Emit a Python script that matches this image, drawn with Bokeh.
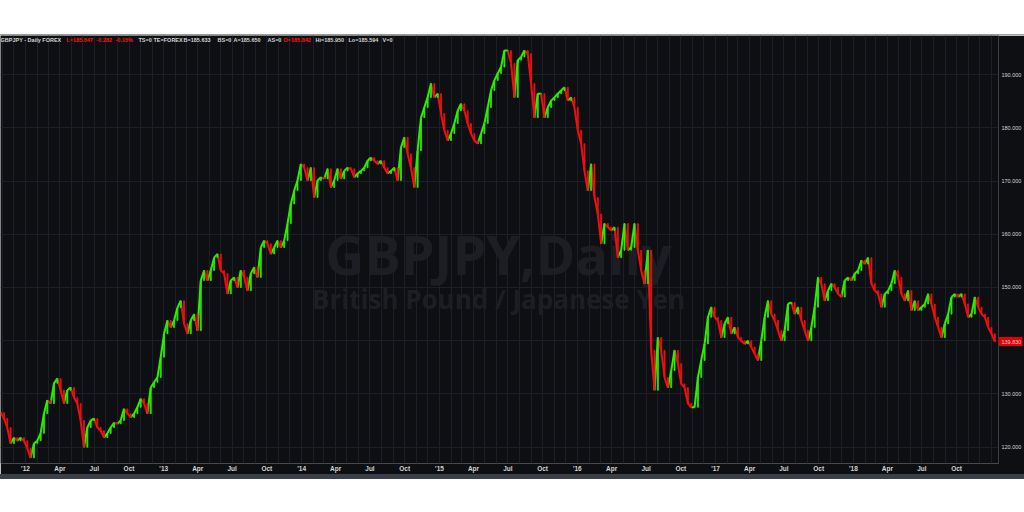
import pandas as pd
from bokeh.plotting import figure
from bokeh.models import (ColumnDataSource, FixedTicker, Range1d, Label,
                          LinearAxis, Div, Spacer)
from bokeh.layouts import column
from bokeh.embed import file_html
from bokeh.resources import INLINE

# ---------------- data ----------------
closes = [
    126.5, 125.4, 123.7, 120.7, 121.8, 121.2, 121.8, 121.2, 119.8, 118.0,
    120.7, 121.2, 122.6, 126.3, 128.8, 128.2, 132.0, 132.9, 130.7, 128.2,
    130.7, 131.2, 129.3, 128.2, 125.0, 120.0, 123.7, 125.0, 125.4, 123.7,
    123.1, 121.8, 122.6, 123.7, 124.6, 124.4, 125.0, 127.2, 126.3, 125.6,
    126.3, 127.5, 129.1, 128.2, 126.3, 131.2, 132.2, 133.1, 136.9, 141.3,
    143.8, 142.5, 143.8, 146.2, 147.5, 143.2, 141.3, 143.8, 145.0, 141.9,
    151.3, 153.2, 151.3, 153.2, 155.6, 156.3, 153.2, 152.6, 148.8, 151.3,
    151.9, 150.0, 153.2, 151.9, 149.4, 152.6, 153.8, 151.9, 157.5, 158.8,
    158.2, 156.3, 157.5, 158.8, 157.5, 158.8, 162.0, 165.7, 168.2, 170.1,
    173.2, 172.5, 170.1, 172.5, 166.9, 170.1, 170.7, 170.4, 172.3, 168.8,
    170.1, 172.3, 170.4, 171.9, 172.5, 172.3, 170.7, 171.4, 171.9, 172.5,
    173.8, 174.4, 173.8, 173.2, 173.8, 172.5, 171.4, 171.9, 172.5, 170.1,
    176.3, 178.2, 175.1, 172.5, 168.8, 175.7, 181.9, 183.8, 185.7, 188.3,
    185.7, 186.4, 182.7, 179.5, 177.6, 178.9, 180.8, 183.2, 184.5, 183.2,
    180.8, 178.9, 177.6, 177.0, 178.9, 180.8, 183.8, 187.0, 188.9, 190.2,
    191.4, 194.5, 194.5, 192.1, 185.7, 192.7, 193.3, 194.5, 193.9, 188.3,
    181.9, 186.4, 186.4, 181.9, 183.8, 185.1, 185.7, 186.4, 187.0, 187.6,
    185.1, 185.7, 183.8, 179.5, 177.0, 171.9, 168.2, 173.2, 166.9, 163.8,
    158.2, 162.0, 161.3, 160.7, 161.3, 155.6, 157.0, 162.0, 157.0, 157.5,
    162.0, 157.0, 153.2, 150.7, 157.0, 138.2, 130.7, 140.6, 138.2, 133.1,
    131.2, 134.4, 138.2, 135.7, 131.9, 131.2, 128.2, 127.5, 127.5, 133.1,
    136.3, 139.4, 144.4, 146.3, 144.4, 143.8, 140.6, 143.2, 144.4, 141.3,
    142.5, 140.6, 140.0, 139.4, 140.0, 138.8, 137.5, 136.3, 140.0, 144.4,
    147.5, 145.0, 143.8, 141.9, 140.0, 141.9, 146.9, 147.2, 145.0, 146.3,
    143.8, 141.9, 140.0, 142.5, 146.3, 151.9, 150.7, 147.5, 149.4, 150.7,
    150.0, 148.8, 148.2, 151.3, 151.9, 151.3, 152.6, 153.2, 155.1, 154.4,
    155.6, 150.7, 149.4, 148.8, 146.3, 148.8, 149.4, 150.7, 153.2, 151.9,
    148.8, 147.5, 149.4, 145.7, 147.5, 145.7, 146.3, 146.9, 148.8, 146.9,
    144.4, 142.5, 140.6, 143.2, 145.0, 148.2, 148.8, 148.2, 148.8, 146.9,
    144.4, 145.0, 148.2, 146.3, 145.0, 144.4, 142.5, 141.3, 139.83,
]
start_date = "2011-10-27"
bar_step = "212h"
view_start, view_end = "2011-10-26 19:00", "2019-01-20"
grid_prices = [120, 130, 140, 150, 160, 170, 180, 190]
last_price = 139.83
label_prices = [120, 130, last_price, 150, 160, 170, 180, 190]
label_texts = ["120.000", "130.000", "139.830", "150.000", "160.000",
               "170.000", "180.000", "190.000"]
price_view = (116.94, 197.33)
quarter_ticks = [
    "2012-01-01", "2012-04-01", "2012-07-01", "2012-10-01",
    "2013-01-01", "2013-04-01", "2013-07-01", "2013-10-01",
    "2014-01-01", "2014-04-01", "2014-07-01", "2014-10-01",
    "2015-01-01", "2015-04-01", "2015-07-01", "2015-10-01",
    "2016-01-01", "2016-04-01", "2016-07-01", "2016-10-01",
    "2017-01-01", "2017-04-01", "2017-07-01", "2017-10-01",
    "2018-01-01", "2018-04-01", "2018-07-01", "2018-10-01",
]
quarter_labels = ["'12", "Apr", "Jul", "Oct", "'13", "Apr", "Jul", "Oct",
                  "'14", "Apr", "Jul", "Oct", "'15", "Apr", "Jul", "Oct",
                  "'16", "Apr", "Jul", "Oct", "'17", "Apr", "Jul", "Oct",
                  "'18", "Apr", "Jul", "Oct"]
header_texts = ["GBPJPY - Daily FOREX", "L=185.647", "-0.282", "-0.15%",
                "TS=0", "TE=FOREX", "B=185.633", "BS=0", "A=185.650",
                "AS=0", "O=185.842", "Hi=185.950", "Lo=185.594", "V=0"]
header_red = [False, True, True, True, False, False, False, False, False,
              False, True, False, False, False]
watermark_title = "GBPJPY,Daily"
watermark_sub = "British Pound / Japanese Yen"

# ---------------- styling ----------------
BG = "#0e0f13"
GRID = "#1c1f25"
UP = "#2cf000"
DOWN = "#f01010"
TAG = "#e80000"
TXT = "#d4d4d4"
FRAME_W, FRAME_H = 998, 428
header_x = [0, 66, 96, 115, 138, 153, 183, 217, 233, 267, 283, 315, 348, 382]


def ms(d):
    return pd.Timestamp(d).value / 1e6


dates = pd.date_range(start_date, periods=len(closes), freq=bar_step)
opens = [closes[0]] + closes[:-1]
prev_dates = [dates[0]] + list(dates[:-1])
step_ms = pd.Timedelta(bar_step).value / 1e6
src = ColumnDataSource(dict(
    x0=prev_dates, x1=dates,
    y0=opens, y1=closes,
    x=dates,
    top=[max(o, c) for o, c in zip(opens, closes)],
    bottom=[min(o, c) for o, c in zip(opens, closes)],
    color=[UP if c >= o else DOWN for o, c in zip(opens, closes)],
))

p = figure(frame_width=FRAME_W, frame_height=FRAME_H, x_axis_type="datetime",
           y_axis_location="right", output_backend="svg",
           toolbar_location=None,
           x_range=Range1d(ms(view_start), ms(view_end)),
           y_range=Range1d(*price_view),
           min_border_left=0, min_border_top=0, min_border_right=26,
           min_border_bottom=10)
p.background_fill_color = BG
p.border_fill_color = BG
p.outline_line_color = None

month_ticks = [ms(d) for d in pd.date_range("2011-11-01", "2019-01-01", freq="MS")]
p.xgrid.ticker = FixedTicker(ticks=month_ticks)
p.xgrid.grid_line_color = GRID
p.ygrid.ticker = FixedTicker(ticks=grid_prices)
p.ygrid.grid_line_color = GRID

qt = [ms(d) for d in quarter_ticks]
p.xaxis.ticker = FixedTicker(ticks=qt)
p.xaxis.major_label_overrides = {t: l for t, l in zip(qt, quarter_labels)}
p.xaxis.axis_line_color = None
p.xaxis.major_tick_line_color = None
p.xaxis.minor_tick_line_color = None
p.xaxis.major_tick_out = 0
p.xaxis.major_tick_in = 0
p.xaxis.minor_tick_out = 0
p.xaxis.major_label_standoff = 1
p.xaxis.major_label_text_font = "Liberation Sans"
p.xaxis.major_label_text_font_size = "6.5px"
p.xaxis.major_label_text_font_style = "bold"
p.xaxis.major_label_text_color = TXT

# main price axis
yax = p.yaxis[0]
yax.ticker = FixedTicker(ticks=label_prices)
yax.major_label_overrides = {v: t for v, t in zip(label_prices, label_texts)}
yax.axis_line_color = "#3a3d43"
yax.major_tick_line_color = None
yax.major_tick_out = 0
yax.major_tick_in = 0
yax.minor_tick_out = 0
yax.minor_tick_line_color = None
yax.major_label_standoff = 3
yax.major_label_text_font = "Liberation Sans"
yax.major_label_text_font_size = "5.5px"
yax.major_label_text_color = TXT

# last-price tag: a thick red tick (drawn outward through a negative
# inward length) on an axis that takes no room next to the frame
tag_axis = LinearAxis(ticker=FixedTicker(ticks=[last_price]),
                      major_label_overrides={last_price: ""},
                      axis_line_color=None, minor_tick_line_color=None,
                      minor_tick_out=0, minor_tick_in=0,
                      major_tick_in=-24, major_tick_out=0,
                      major_tick_line_color=TAG, major_tick_line_width=9,
                      major_label_standoff=0,
                      major_label_text_font_size="0px")
p.right = [tag_axis] + list(p.right)

# watermark
p.add_layout(Label(x=498, y=210, x_units="screen", y_units="screen",
                   text=watermark_title, text_align="center",
                   text_baseline="alphabetic", text_font="Open Sans",
                   text_font_style="bold", text_font_size="54px",
                   text_color="#1c1e24", level="underlay"))
p.add_layout(Label(x=498, y=165, x_units="screen", y_units="screen",
                   text=watermark_sub, text_align="center",
                   text_baseline="alphabetic", text_font="Open Sans",
                   text_font_style="bold", text_font_size="26px",
                   text_color="#1c1e24", level="underlay"))

# price moves: each step from the previous close to this close,
# green when it rises and red when it falls, with a thin body on top
p.segment(x0="x0", y0="y0", x1="x1", y1="y1", line_color="color",
          line_width=2, source=src)
p.vbar(x="x", top="top", bottom="bottom", width=step_ms * 0.3,
       fill_color="color", line_color="color", line_width=0.8, source=src)

# header line
for hx, t, red in zip(header_x, header_texts, header_red):
    p.add_layout(Label(x=hx, y=FRAME_H - 4, x_units="screen", y_units="screen",
                       text=t, text_align="left", text_baseline="middle",
                       text_font="Liberation Sans", text_font_style="bold",
                       text_font_size="5.5px",
                       text_color="#ff1414" if red else TXT))

top_pad = Spacer(width=1024, height=34, margin=0)
top_line = Div(text="", width=1024, height=1, margin=0,
               styles={"background-color": "#9c9c9c"})
bottom_strip = Div(text="", width=1024, height=5, margin=0,
                   styles={"background-color": "#3b3f47"})
layout = column(top_pad, top_line, p, bottom_strip, spacing=0)

open("out.html", "w").write(file_html(layout, INLINE))
